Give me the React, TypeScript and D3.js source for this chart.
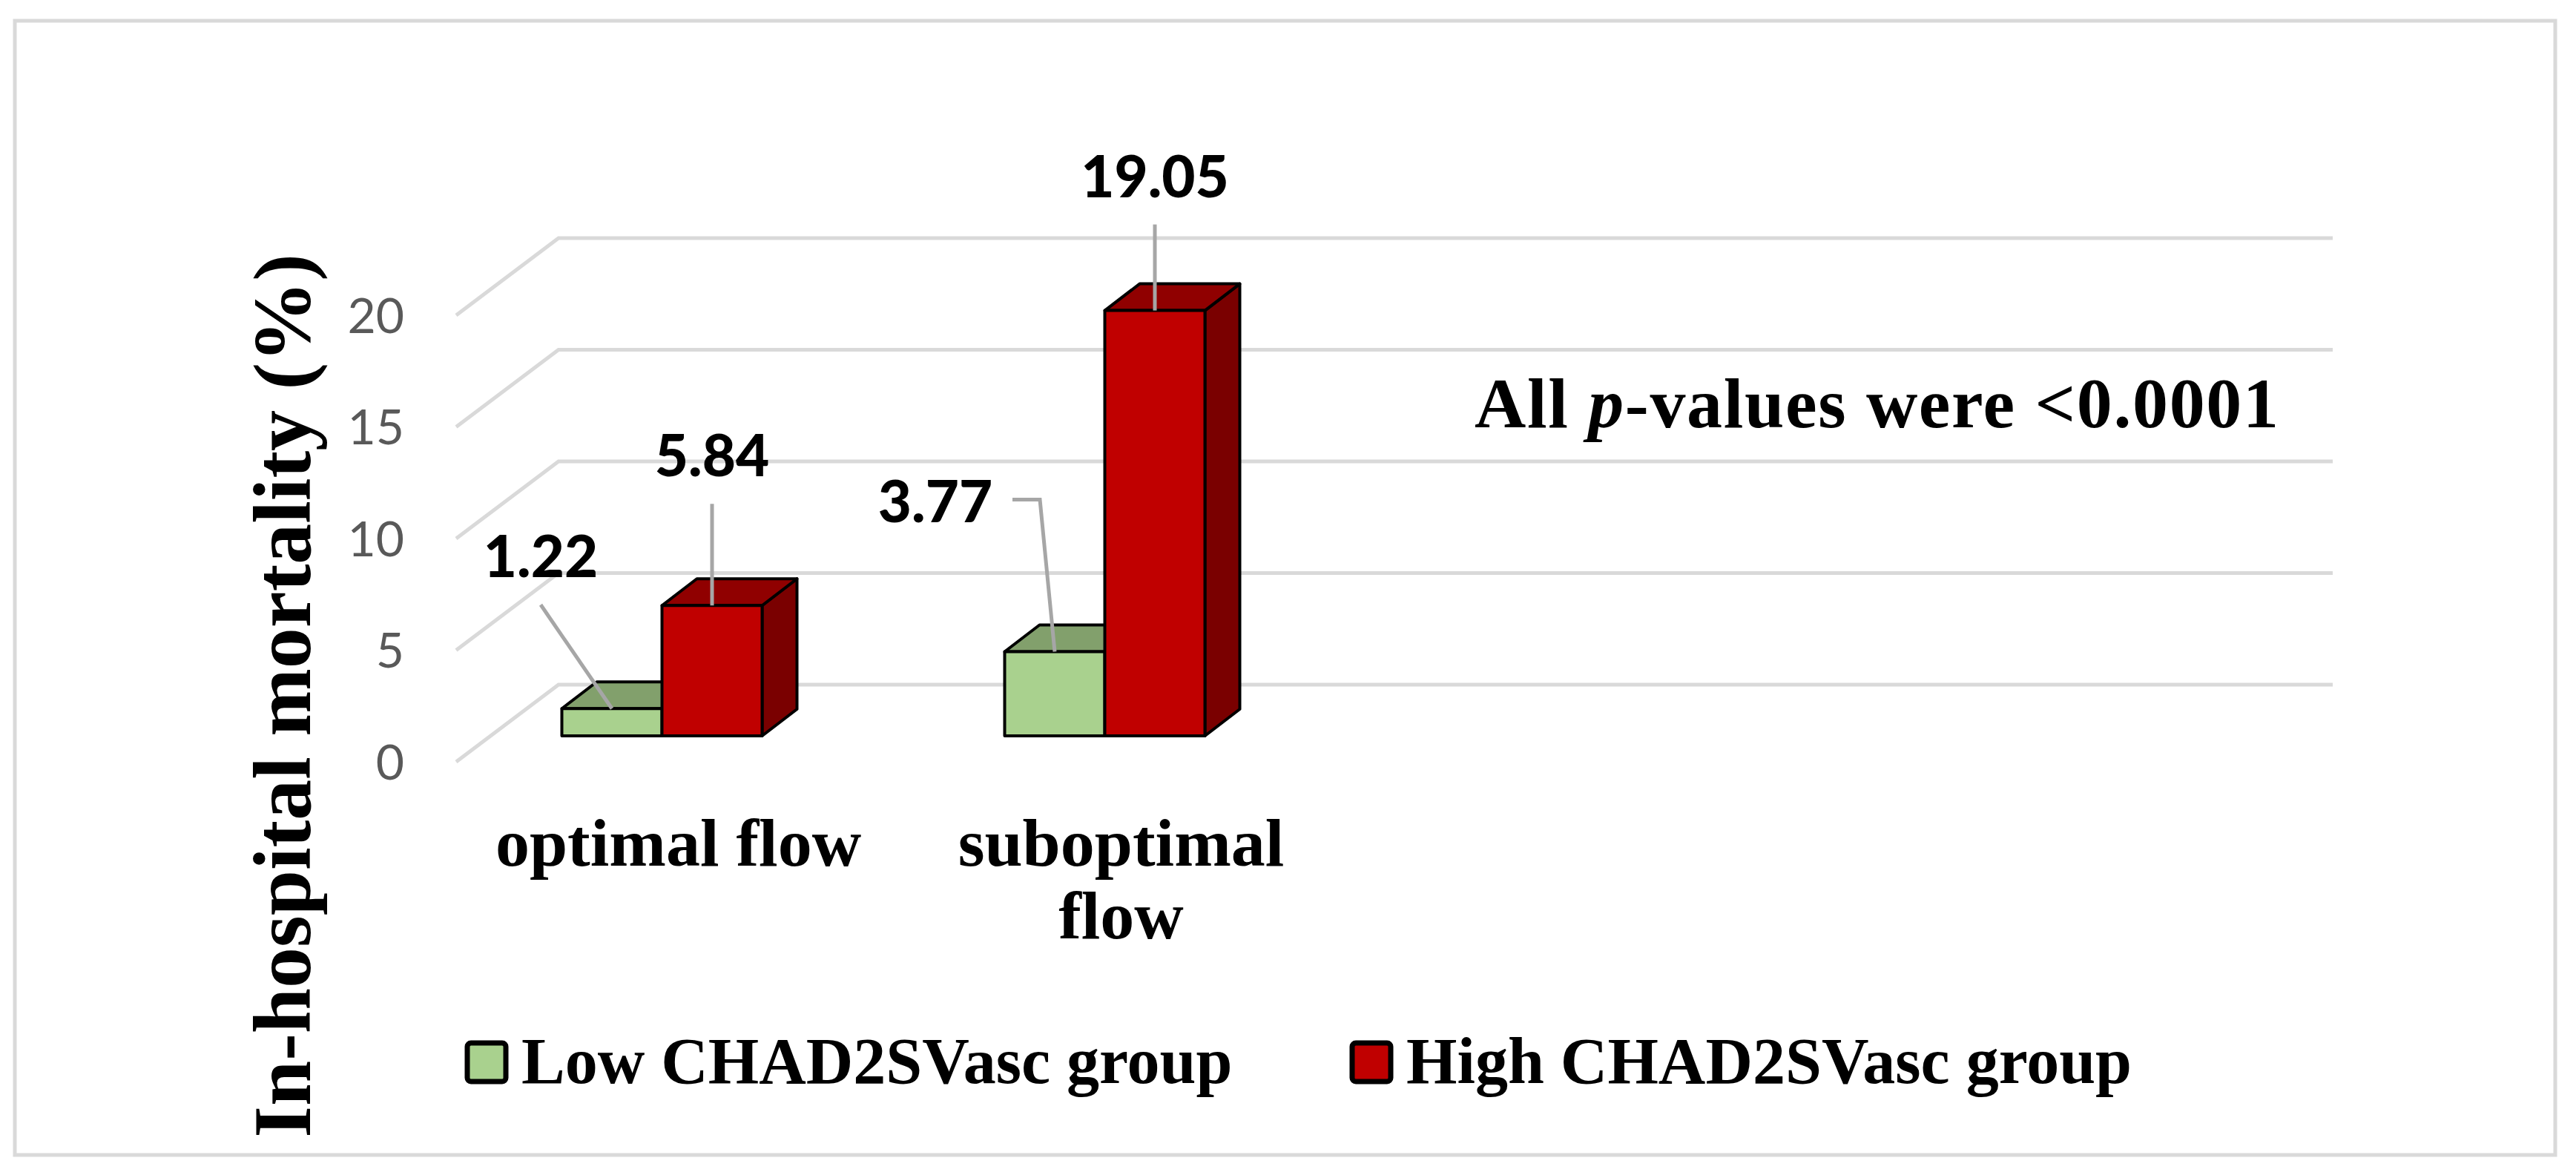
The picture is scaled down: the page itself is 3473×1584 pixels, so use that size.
import * as d3 from 'd3'

// chart data
const categories = ['optimal flow', 'suboptimal flow']
const categoryLines = [['optimal flow'], ['suboptimal', 'flow']]
const series = ['Low CHAD2SVasc group', 'High CHAD2SVasc group']
const lowValues = [1.22, 3.77]
const highValues = [5.84, 19.05]
const yTicks = [0, 5, 10, 15, 20]
const slotCount = 4 // the axis keeps two empty slots on the right
const note = { before: 'All ', italic: 'p', after: '-values were <0.0001' }

const W = 3473
const H = 1584

// 3d layout
const wallLeft = 753
const wallRight = 3145
const wallDrop = 69 // back wall sits this far above the bars' front plane
const sideDx = 138 // depth of the side wall
const sideDy = 104
const barDx = 47
const barDy = -36

const colors = {
    low: { front: '#a9d18e', top: '#82a06c', side: '#6f8a5d' },
    high: { front: '#c00000', top: '#900000', side: '#7a0000' },
}

const serif = "'Liberation Serif', 'Times New Roman', serif"
const sans = "Lato, 'Liberation Sans', sans-serif"

// label placement relative to bar top (cx offset, baseline offset)
const labelPos = {
    low: [
        { dx: -96, dy: -177, elbow: false },
        { dx: -161, dy: -175, elbow: true },
    ],
    high: [
        { dx: 0, dy: -174, elbow: false },
        { dx: 0, dy: -153, elbow: false },
    ],
}

const App = () => {
    const y = d3.scaleLinear().domain([0, 20]).range([992, 390])
    const x = d3
        .scaleBand<number>()
        .domain(d3.range(slotCount))
        .range([594, 2982])
    const xs = d3
        .scaleBand<string>()
        .domain(series)
        .range([0, x.bandwidth()])
        .paddingInner(0)
        .paddingOuter(1.211)
    const bw = xs.bandwidth()

    const bar = (i: number, key: 'low' | 'high', v: number) => {
        const x0 = (x(i) ?? 0) + (xs(series[key === 'low' ? 0 : 1]) ?? 0)
        const x1 = x0 + bw
        const yt = y(v)
        const yb = y(0)
        const c = colors[key]
        const top = `M${x0},${yt}L${x0 + barDx},${yt + barDy}L${x1 + barDx},${yt + barDy}L${x1},${yt}Z`
        const side = `M${x1},${yt}L${x1 + barDx},${yt + barDy}L${x1 + barDx},${yb + barDy}L${x1},${yb}Z`
        return (
            <g key={key + i} stroke='#000' strokeWidth={4} strokeLinejoin='round'>
                <path d={side} fill={c.side} />
                <path d={top} fill={c.top} />
                <rect x={x0} y={yt} width={bw} height={yb - yt} fill={c.front} />
            </g>
        )
    }

    const label = (i: number, key: 'low' | 'high', v: number) => {
        const x0 = (x(i) ?? 0) + (xs(series[key === 'low' ? 0 : 1]) ?? 0)
        const cx = x0 + bw / 2
        const yt = y(v)
        const p = labelPos[key][i]
        const lx = cx + p.dx
        const ly = yt + p.dy
        let d: string
        if (p.elbow) {
            const hy = ly - 30
            d = `M${lx + 104},${hy}H${cx - 20}L${cx},${yt}`
        } else {
            d = `M${lx},${ly + 37}L${cx},${yt}`
        }
        return (
            <g key={'l' + key + i}>
                <path d={d} fill='none' stroke='#a6a6a6' strokeWidth={5} />
                <text
                    x={lx}
                    y={ly}
                    textAnchor='middle'
                    fontFamily={sans}
                    fontWeight={900}
                    fontSize={78}
                    fill='#000'
                >
                    {v.toFixed(2)}
                </text>
            </g>
        )
    }

    return (
        <div style={{ width: W, height: H, overflow: 'hidden' }}>
            <style>{'body{margin:0}'}</style>
            <svg width={W} height={H} style={{ display: 'block', background: '#fff' }}>
                <rect
                    x={20}
                    y={28}
                    width={3425}
                    height={1529}
                    fill='#fff'
                    stroke='#d9d9d9'
                    strokeWidth={5}
                />

                {/* gridlines on side and back wall */}
                {yTicks.map(t => {
                    const yb = y(t) - wallDrop
                    return (
                        <path
                            key={'g' + t}
                            d={`M${wallLeft - sideDx},${yb + sideDy}L${wallLeft},${yb}H${wallRight}`}
                            fill='none'
                            stroke='#d9d9d9'
                            strokeWidth={5}
                        />
                    )
                })}

                {/* y tick labels */}
                {yTicks.map(t => (
                    <text
                        key={'t' + t}
                        x={545}
                        y={y(t) - wallDrop + sideDy}
                        dy='0.36em'
                        textAnchor='end'
                        fontFamily={sans}
                        fontSize={66}
                        fill='#595959'
                    >
                        {t}
                    </text>
                ))}

                {/* bars */}
                {lowValues.map((v, i) => bar(i, 'low', v))}
                {highValues.map((v, i) => bar(i, 'high', v))}

                {/* data labels */}
                {lowValues.map((v, i) => label(i, 'low', v))}
                {highValues.map((v, i) => label(i, 'high', v))}

                {/* category labels */}
                {categories.map((c, i) => (
                    <text
                        key={c}
                        x={(x(i) ?? 0) + x.bandwidth() / 2 + 22}
                        y={1167}
                        textAnchor='middle'
                        fontFamily={serif}
                        fontWeight={700}
                        fontSize={92}
                        fill='#000'
                    >
                        {categoryLines[i].map((ln, k) => (
                            <tspan
                                key={k}
                                x={(x(i) ?? 0) + x.bandwidth() / 2 + 22}
                                dy={k === 0 ? 0 : 98}
                            >
                                {ln}
                            </tspan>
                        ))}
                    </text>
                ))}

                {/* y axis title */}
                <text
                    transform='translate(418,938) rotate(-90)'
                    textAnchor='middle'
                    fontFamily={serif}
                    fontWeight={700}
                    fontSize={110}
                    fill='#000'
                >
                    In-hospital mortality (%)
                </text>

                {/* p-value note */}
                <text
                    x={1988}
                    y={576}
                    fontFamily={serif}
                    fontWeight={700}
                    fontSize={96}
                    fill='#000'
                    textLength={1084}
                    lengthAdjust='spacing'
                >
                    {note.before}
                    <tspan fontStyle='italic'>{note.italic}</tspan>
                    {note.after}
                </text>

                {/* legend */}
                {series.map((s, i) => {
                    const lx = [630, 1823][i]
                    const c = i === 0 ? colors.low : colors.high
                    return (
                        <g key={s}>
                            <rect
                                x={lx}
                                y={1406}
                                width={52}
                                height={52}
                                rx={5}
                                fill={c.front}
                                stroke='#000'
                                strokeWidth={7}
                            />
                            <text
                                x={lx + 73}
                                y={1460}
                                fontFamily={serif}
                                fontWeight={700}
                                fontSize={88}
                                fill='#000'
                            >
                                {s}
                            </text>
                        </g>
                    )
                })}
            </svg>
        </div>
    )
}

export default App
